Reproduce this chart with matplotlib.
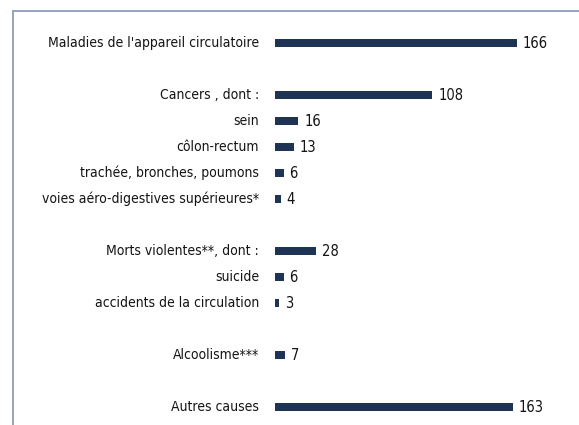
import numpy as np
import matplotlib
matplotlib.use('Agg')
import matplotlib.pyplot as plt
from matplotlib.patches import Rectangle

# données (les chaînes vides sont des lignes d'espacement)
labels = [
    "Maladies de l'appareil circulatoire", "",
    "Cancers , dont :", "sein", "côlon-rectum", "trachée, bronches, poumons",
    "voies aéro-digestives supérieures*", "",
    "Morts violentes**, dont :", "suicide", "accidents de la circulation", "",
    "Alcoolisme***", "",
    "Autres causes",
]
values = [166, None, 108, 16, 13, 6, 4, None, 28, 6, 3, None, 7, None, 163]

plt.rcParams['font.family'] = ['DejaVu Sans']
plt.rcParams['font.stretch'] = 'condensed'

W, H = 579, 425
fig = plt.figure(figsize=(W / 100, H / 100), dpi=100)

# cadre gris-bleu (coupé à droite et en bas)
fig.patches.append(Rectangle((13 / W, -0.2), 1.2, 1 - 11 / H + 0.2,
                             transform=fig.transFigure, fill=False,
                             edgecolor='#8d9cb8', linewidth=1.3))

ax = fig.add_axes([275 / W, 0, 1 - 275 / W, 1])
ax.set_xlim(0, (W - 275) / 1.458)
ax.set_ylim((H - 43) / 26, -43 / 26)
ax.axis('off')

bar_color = '#1f3454'
text_color = '#141414'
for i, (lab, val) in enumerate(zip(labels, values)):
    if val is None:
        continue
    ax.barh(i, val, height=0.3, color=bar_color)
    ax.text(val + 4, i, str(val), va='center', ha='left',
            fontsize=10.5, color=text_color)
    ax.text(-11, i, lab, va='center', ha='right',
            fontsize=10, color=text_color)

fig.savefig('out.png', dpi=100)
